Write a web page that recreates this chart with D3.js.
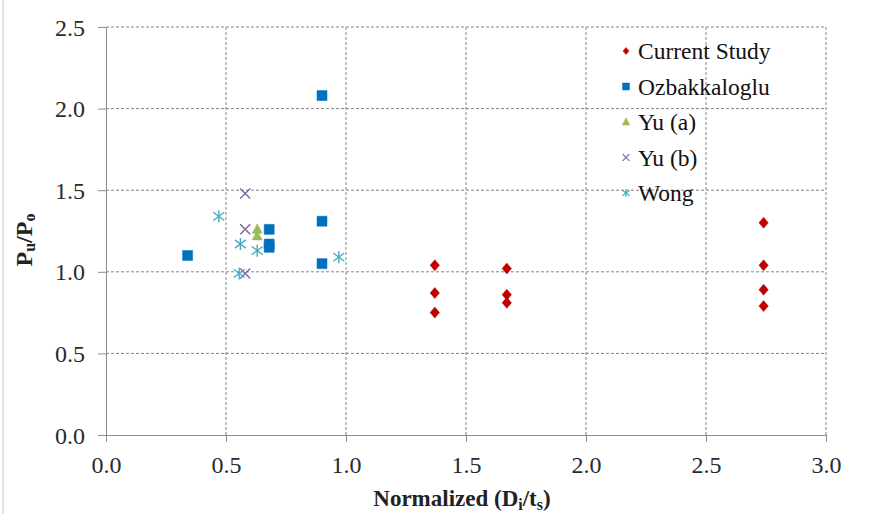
<!DOCTYPE html>
<html><head><meta charset="utf-8">
<script src="https://cdn.jsdelivr.net/npm/d3@7"></script>
<style>
html,body{margin:0;padding:0;background:#fff;}
svg{display:block;}
</style></head>
<body>
<svg id="c" width="871" height="514"></svg>
<script>
// ---- data ----
const xTicks = [0.0, 0.5, 1.0, 1.5, 2.0, 2.5, 3.0];
const yTicks = [0.0, 0.5, 1.0, 1.5, 2.0, 2.5];
const seriesNames = ["Current Study", "Ozbakkaloglu", "Yu (a)", "Yu (b)", "Wong"];
const currentX = [1.37, 1.37, 1.37, 1.67, 1.67, 1.67, 2.74, 2.74, 2.74, 2.74];
const currentY = [1.04, 0.87, 0.75, 1.02, 0.86, 0.81, 1.30, 1.04, 0.89, 0.79];
const ozbX = [0.34, 0.68, 0.68, 0.68, 0.90, 0.90, 0.90];
const ozbY = [1.10, 1.26, 1.17, 1.15, 2.08, 1.31, 1.05];
const yuaX = [0.63, 0.63];
const yuaY = [1.26, 1.22];
const yubX = [0.58, 0.58, 0.58];
const yubY = [1.48, 1.26, 0.99];
const wongX = [0.47, 0.56, 0.63, 0.555, 0.97];
const wongY = [1.34, 1.17, 1.13, 0.99, 1.09];

// ---- drawing ----
const svg = d3.select("#c");
const FONT = "Liberation Serif, Times New Roman, serif";
const x = d3.scaleLinear().domain([0, 3]).range([106, 826]);
const y = d3.scaleLinear().domain([0, 2.5]).range([435, 27]);

// left border
svg.append("line").attr("x1", 3).attr("x2", 3).attr("y1", 0).attr("y2", 514)
  .attr("stroke", "#c8c8c8").attr("stroke-width", 1);

// grid
const grid = svg.append("g");
grid.selectAll("line.h").data(yTicks.filter(d => d > 0)).join("line")
  .attr("x1", x(0)).attr("x2", x(3)).attr("y1", d => y(d)).attr("y2", d => y(d))
  .attr("stroke", "#858585").attr("stroke-dasharray", "3,2").attr("stroke-width", 1);
grid.selectAll("line.v").data(xTicks.filter(d => d > 0)).join("line")
  .attr("y1", y(0)).attr("y2", y(2.5)).attr("x1", d => x(d)).attr("x2", d => x(d))
  .attr("stroke", "#858585").attr("stroke-dasharray", "3,2").attr("stroke-width", 1);

// axes
const xAxis = svg.append("g").attr("transform", `translate(0,${y(0)})`)
  .call(d3.axisBottom(x).tickValues(xTicks).tickFormat(d3.format(".1f")).tickSize(7).tickPadding(14).tickSizeOuter(0));
const yAxis = svg.append("g").attr("transform", `translate(${x(0)},0)`)
  .call(d3.axisLeft(y).tickValues(yTicks).tickFormat(d3.format(".1f")).tickSize(8).tickPadding(13).tickSizeOuter(0));
[xAxis, yAxis].forEach(a => {
  a.attr("font-family", FONT).attr("font-size", 24);
  a.select(".domain").attr("stroke", "#8c8c8c");
  a.selectAll(".tick line").attr("stroke", "#8c8c8c");
  a.selectAll("text").attr("font-family", FONT).attr("font-size", 24).attr("fill", "#2a2a2a");
});
yAxis.selectAll("text").attr("dy", "0.34em");

// markers
function diamond(s) { const p = d3.path(); p.moveTo(0, -s); p.lineTo(s * 0.85, 0); p.lineTo(0, s); p.lineTo(-s * 0.85, 0); p.closePath(); return p.toString(); }
function square(s) { const p = d3.path(); p.rect(-s, -s, 2 * s, 2 * s); return p.toString(); }
function triangle(s) { const p = d3.path(); p.moveTo(0, -s * 1.1); p.lineTo(s, s * 0.8); p.lineTo(-s, s * 0.8); p.closePath(); return p.toString(); }
function cross(s) { const p = d3.path(); p.moveTo(-s, -s); p.lineTo(s, s); p.moveTo(s, -s); p.lineTo(-s, s); return p.toString(); }
function star(s) { const p = d3.path(); p.moveTo(-s, -s * 0.75); p.lineTo(s, s * 0.75); p.moveTo(s, -s * 0.75); p.lineTo(-s, s * 0.75); p.moveTo(0, -s * 1.1); p.lineTo(0, s * 1.1); return p.toString(); }

const series = [
  { name: seriesNames[0], xs: currentX, ys: currentY, shape: diamond, size: 5.5, lsize: 3.5, color: "#c00000", fill: true },
  { name: seriesNames[1], xs: ozbX, ys: ozbY, shape: square, size: 5, lsize: 3.5, color: "#0070c0", fill: true },
  { name: seriesNames[2], xs: yuaX, ys: yuaY, shape: triangle, size: 5, lsize: 3.8, color: "#9bbb59", fill: true },
  { name: seriesNames[3], xs: yubX, ys: yubY, shape: cross, size: 5, lsize: 3.3, color: "#8064a2", fill: false },
  { name: seriesNames[4], xs: wongX, ys: wongY, shape: star, size: 5.5, lsize: 3.6, color: "#4bacc6", fill: false }
];

series.forEach(s => {
  const pts = s.xs.map((v, i) => [v, s.ys[i]]);
  svg.append("g").selectAll("path").data(pts).join("path")
    .attr("transform", d => `translate(${x(d[0])},${y(d[1])})`)
    .attr("d", s.shape(s.size))
    .attr("fill", s.fill ? s.color : "none")
    .attr("stroke", s.color)
    .attr("stroke-width", s.fill ? 0.5 : 1.4);
});

// legend
const leg = svg.append("g").attr("transform", "translate(626,51)");
series.forEach((s, i) => {
  const g = leg.append("g").attr("transform", `translate(0,${i * 35.5})`);
  g.append("path").attr("d", s.shape(s.lsize))
    .attr("fill", s.fill ? s.color : "none").attr("stroke", s.color)
    .attr("stroke-width", s.fill ? 0.5 : 1.2);
  g.append("text").attr("x", 12).attr("y", 0).attr("dy", "0.35em")
    .attr("font-family", FONT).attr("font-size", 23.5).attr("fill", "#111").text(s.name);
});

// axis titles
const xt = svg.append("text").attr("x", 462).attr("y", 506).attr("text-anchor", "middle")
  .attr("font-family", FONT).attr("font-size", 23).attr("font-weight", "bold").attr("fill", "#222");
xt.append("tspan").text("Normalized (D");
xt.append("tspan").attr("font-size", 16).attr("dy", 4).text("i");
xt.append("tspan").attr("dy", -4).text("/t");
xt.append("tspan").attr("font-size", 16).attr("dy", 4).text("s");
xt.append("tspan").attr("dy", -4).text(")");

const yt = svg.append("text").attr("transform", "translate(32,240) rotate(-90)").attr("text-anchor", "middle")
  .attr("font-family", FONT).attr("font-size", 24).attr("font-weight", "bold").attr("fill", "#222");
yt.append("tspan").text("P");
yt.append("tspan").attr("font-size", 16).attr("dy", 3).text("u");
yt.append("tspan").attr("dy", -3).text("/P");
yt.append("tspan").attr("font-size", 16).attr("dy", 3).text("o");
</script>
</body></html>
